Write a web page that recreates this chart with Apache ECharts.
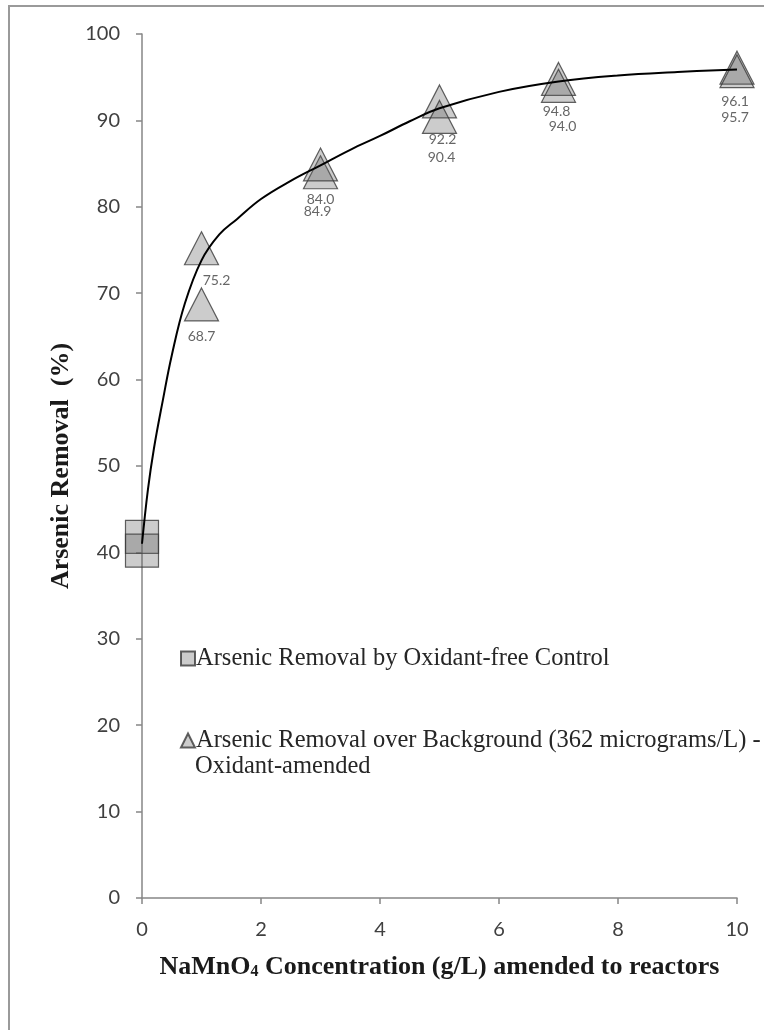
<!DOCTYPE html>
<html>
<head>
<meta charset="utf-8">
<script src="https://cdn.jsdelivr.net/npm/echarts@6/dist/echarts.min.js"></script>
<style>
  html, body { margin: 0; padding: 0; background: #ffffff; }
  #chart { width: 764px; height: 1030px; }
</style>
</head>
<body>
<div id="chart"></div>
<script>
// ---- data ----
const xTicks = [0, 2, 4, 6, 8, 10];
const yTicks = [0, 10, 20, 30, 40, 50, 60, 70, 80, 90, 100];

const controlX = [0, 0];
const controlY = [41.8, 40.2];

const amendedX = [1, 3, 5, 7, 10];
const amendedA = [75.2, 84.0, 92.2, 94.8, 96.1];
const amendedB = [68.7, 84.9, 90.4, 94.0, 95.7];

const curveX = [0, 0.1, 0.2, 0.35, 0.5, 0.72, 1, 1.3, 1.6, 2, 2.5, 3, 3.5, 4, 4.5, 5, 6, 7, 8, 9, 10];
const curveY = [41, 47.3, 52, 57.6, 62.8, 68.8, 73.8, 76.8, 78.6, 80.9, 83, 84.8, 86.6, 88.2, 89.9, 91.4, 93.3, 94.5, 95.2, 95.6, 95.9];

const controlName = 'Arsenic Removal by Oxidant-free Control';
const amendedName = 'Arsenic Removal over Background (362 micrograms/L) -';
const amendedName2 = 'Oxidant-amended';

// ---- build ----
const chart = echarts.init(document.getElementById('chart'), null, { renderer: 'canvas' });

const markerFill = 'rgba(95,95,95,0.40)';
const markerBorder = '#3a3a3a';

// label nudges (layout only): [dx, dy] from marker centre
const nudgeA = [[15, 32], [0, 27], [3, 38], [-2, 33], [-2, 34]];
const nudgeB = [[0, 32], [-3, 47], [2, 41], [4, 41], [-2, 46]];

const amendedData = [];
amendedX.forEach((x, i) => {
  amendedData.push({ value: [x, amendedA[i]], label: { offset: nudgeA[i] } });
});
amendedX.forEach((x, i) => {
  amendedData.push({ value: [x, amendedB[i]], label: { offset: nudgeB[i] } });
});

const labelFont = { fontFamily: 'Lato', fontSize: 14, color: '#404040' };
const legendText = { fontFamily: 'Liberation Serif', fontSize: 24.5, color: '#262626', padding: [0, 0, 0, -4] };

const option = {
  backgroundColor: '#ffffff',
  animation: false,
  grid: { left: 142, right: 27, top: 34, bottom: 132, containLabel: false },
  graphic: [
    {
      type: 'rect',
      shape: { x: 9, y: 6, width: 900, height: 1200 },
      style: { fill: 'none', stroke: '#9a9a9a', lineWidth: 2 },
      silent: true, z: -10
    },
    {
      type: 'text',
      left: 195, top: 754,
      style: { text: amendedName2, fontFamily: 'Liberation Serif', fontSize: 24.5, fill: '#262626' }
    }
  ],
  legend: [
    {
      data: [controlName],
      orient: 'vertical',
      left: 175, top: 641,
      itemWidth: 14, itemHeight: 14, itemGap: 10,
      textStyle: legendText
    },
    {
      data: [amendedName],
      orient: 'vertical',
      left: 175, top: 723,
      itemWidth: 14, itemHeight: 14, itemGap: 10,
      textStyle: legendText
    }
  ],
  xAxis: {
    type: 'value',
    min: 0, max: 10, interval: 2,
    splitLine: { show: false },
    axisLine: { show: true, onZero: false, lineStyle: { color: '#868686', width: 1.5 } },
    axisTick: { show: true, inside: false, length: 6, lineStyle: { color: '#868686', width: 1.5 } },
    axisLabel: {
      margin: 22, fontFamily: 'Lato', fontSize: 20, color: '#404040',
      formatter: v => xTicks.includes(v) ? String(v) : ''
    },
    name: 'NaMnO{sub|4} Concentration (g/L) amended to reactors',
    nameLocation: 'middle',
    nameGap: 56,
    nameTextStyle: {
      fontFamily: 'Liberation Serif', fontWeight: 'bold', fontSize: 26, color: '#1a1a1a',
      rich: {
        sub: { fontFamily: 'Liberation Serif', fontWeight: 'bold', fontSize: 16, color: '#1a1a1a', verticalAlign: 'bottom', padding: [10, 0, 0, 0] }
      }
    }
  },
  yAxis: {
    type: 'value',
    min: 0, max: 100, interval: 10,
    splitLine: { show: false },
    axisLine: { show: true, onZero: false, lineStyle: { color: '#868686', width: 1.5 } },
    axisTick: { show: true, inside: false, length: 6, lineStyle: { color: '#868686', width: 1.5 } },
    axisLabel: {
      margin: 22, fontFamily: 'Lato', fontSize: 20, color: '#404040',
      formatter: v => yTicks.includes(v) ? String(v) : ''
    },
    name: 'Arsenic Removal  (%)',
    nameLocation: 'middle',
    nameGap: 66,
    nameRotate: 90,
    nameTextStyle: { fontFamily: 'Liberation Serif', fontWeight: 'bold', fontSize: 26, color: '#1a1a1a' }
  },
  series: [
    {
      name: controlName,
      type: 'scatter',
      symbol: 'rect',
      symbolSize: 33,
      data: controlX.map((x, i) => [x, controlY[i]]),
      itemStyle: { color: markerFill, borderColor: markerBorder, borderWidth: 1.2 },
      z: 2
    },
    {
      name: amendedName,
      type: 'scatter',
      symbol: 'triangle',
      symbolSize: [34, 33],
      data: amendedData,
      itemStyle: { color: markerFill, borderColor: markerBorder, borderWidth: 1.2 },
      label: {
        show: true,
        position: 'inside',
        formatter: p => p.value[1].toFixed(1),
        ...labelFont
      },
      z: 2
    },
    {
      name: 'curve',
      type: 'line',
      smooth: 0.4,
      showSymbol: false,
      symbol: 'none',
      data: curveX.map((x, i) => [x, curveY[i]]),
      lineStyle: { color: '#000000', width: 2 },
      z: 5
    }
  ]
};

chart.setOption(option);
</script>
</body>
</html>
